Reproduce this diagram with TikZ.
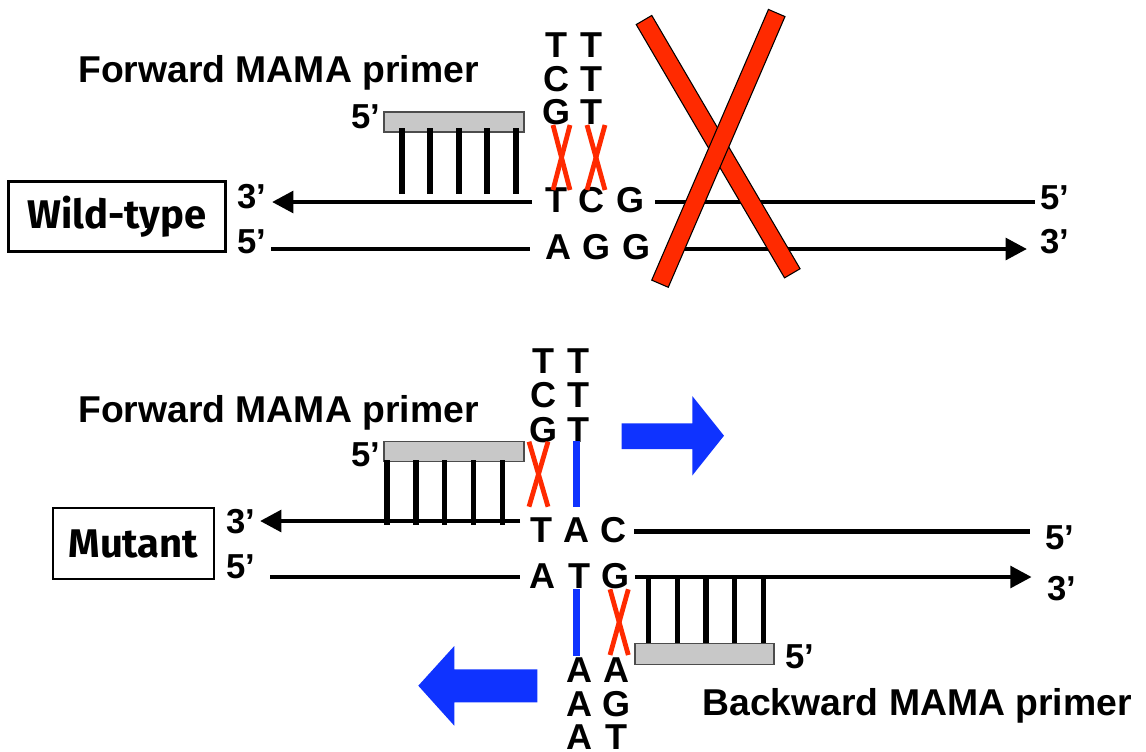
\documentclass[tikz,border=0pt]{standalone}
\usepackage{fontspec}
\setmainfont{Liberation Sans}
\newfontfamily\comicfont{Fira Sans}
\usetikzlibrary{arrows.meta,calc}
\definecolor{xred}{HTML}{FF2A00}
\definecolor{xblue}{HTML}{0F33FF}
\definecolor{primergray}{HTML}{C8C8C8}
\tikzset{
  strand/.style={line width=3.5pt},
  strandarrow/.style={strand,-{Triangle[length=16pt,width=16pt]}},
  hbond/.style={line width=4.2pt},
  redx/.style={line width=3.6pt, draw=xred},
  blueline/.style={line width=5.3pt, draw=xblue},
  nuc/.style={font=\fontsize{27}{27}\selectfont\bfseries, inner sep=0pt},
  endlbl/.style={font=\fontsize{26}{26}\selectfont\bfseries, inner sep=0pt},
  title/.style={font=\fontsize{28}{28}\selectfont\bfseries, inner sep=0pt},
  primerbox/.style={draw=black!70, line width=0.8pt, fill=primergray, minimum width=105pt, minimum height=15pt, inner sep=0pt},
  labelbox/.style={draw, line width=2pt, font=\comicfont\fontsize{30}{30}\selectfont\bfseries, inner sep=0pt},
  bigx/.style={draw=black, line width=0.8pt, fill=xred},
  bluearrow/.style={fill=xblue, draw=none},
}
\begin{document}
\begin{tikzpicture}[x=0.75pt,y=-0.75pt]
\useasboundingbox (0,0) rectangle (1146,751);

% ================= WILD-TYPE =================
\node[title, anchor=base west] (fwd1) at (78,82) {Forward MAMA primer};
\node[primerbox] (p1) at (454,122) {};
\node[endlbl] (p1five) at (366,117) {5’};
\foreach \x in {401.7,430,459,486.7,515.7} \draw[hbond] (\x,128) -- (\x,194);

\node[labelbox, minimum width=162.75pt, minimum height=52.5pt] (wt) at (116.7,216.7) {Wild-type};
\node[endlbl] (wt3) at (252,197) {3’};
\node[endlbl] (wt5) at (252,242) {5’};
\node[endlbl] (wt5r) at (1055,198) {5’};
\node[endlbl] (wt3r) at (1055,242) {3’};

\coordinate (t1a) at (532,202); \coordinate (t1b) at (272,202);
\coordinate (t1c) at (655,202); \coordinate (t1d) at (1035,202);
\coordinate (b1a) at (271,249); \coordinate (b1b) at (530,249);
\coordinate (b1c) at (668,249); \coordinate (b1d) at (1027,249);
\draw[strandarrow] (t1a) -- (t1b);
\draw[strand] (t1c) -- (t1d);
\draw[strand] (b1a) -- (b1b);
\draw[strandarrow] (b1c) -- (b1d);

\node[nuc] (w1) at (556.7,200) {T};
\node[nuc] (w2) at (591.7,200) {C};
\node[nuc] (w3) at (630,200) {G};
\node[nuc] (w4) at (558.3,247) {A};
\node[nuc] (w5) at (596.7,247) {G};
\node[nuc] (w6) at (636.7,247) {G};

\node[nuc] (wc1) at (556.7,45) {T};
\node[nuc] (wc2) at (556.7,79) {C};
\node[nuc] (wc3) at (556.7,112.5) {G};
\node[nuc] (wc4) at (591,45) {T};
\node[nuc] (wc5) at (591,79) {T};
\node[nuc] (wc6) at (591,112.5) {T};

\draw[redx] (553,125) -- (570,190);
\draw[redx] (570,125) -- (553,190);
\draw[redx] (587,125) -- (605,190);
\draw[redx] (605,125) -- (587,190);

\coordinate (xa1) at (644,20); \coordinate (xa2) at (792.3,273.3);
\coordinate (xb1) at (776.7,13); \coordinate (xb2) at (660,283.7);
\path[bigx] ($(xa1)!6.75pt!90:(xa2)$) -- ($(xa1)!6.75pt!-90:(xa2)$) -- ($(xa2)!6.75pt!90:(xa1)$) -- ($(xa2)!6.75pt!-90:(xa1)$) -- cycle;
\path[bigx] ($(xb1)!6.75pt!90:(xb2)$) -- ($(xb1)!6.75pt!-90:(xb2)$) -- ($(xb2)!6.75pt!90:(xb1)$) -- ($(xb2)!6.75pt!-90:(xb1)$) -- cycle;

% ================= MUTANT =================
\node[title, anchor=base west] (fwd2) at (78,422) {Forward MAMA primer};
\node[primerbox] (p2) at (454,451.5) {};
\node[endlbl] (p2five) at (366,455) {5’};
\foreach \x in {386.7,416,444.3,473.3,502.3} \draw[hbond] (\x,460) -- (\x,525);

\node[labelbox, minimum width=120.75pt, minimum height=53.25pt] (mt) at (133.5,543.5) {Mutant};
\node[endlbl] (mt3) at (241,522) {3’};
\node[endlbl] (mt5) at (241,567) {5’};
\node[endlbl] (mt5r) at (1060,538) {5’};
\node[endlbl] (mt3r) at (1062,589) {3’};

\coordinate (t2a) at (520,521); \coordinate (t2b) at (260,521);
\coordinate (t2c) at (634,531.7); \coordinate (t2d) at (1030,531.7);
\coordinate (b2a) at (270,577); \coordinate (b2b) at (520,577);
\coordinate (b2c) at (635,577); \coordinate (b2d) at (1031.7,577);
\draw[strandarrow] (t2a) -- (t2b);
\draw[strand] (t2c) -- (t2d);
\draw[strand] (b2a) -- (b2b);
\draw[strandarrow] (b2c) -- (b2d);

\node[nuc] (m1) at (541.7,530.5) {T};
\node[nuc] (m2) at (576.7,530.5) {A};
\node[nuc] (m3) at (613.3,530.5) {C};
\node[nuc] (m4) at (542.7,576) {A};
\node[nuc] (m5) at (579,576) {T};
\node[nuc] (m6) at (615,576) {G};

\node[nuc] (mc1) at (543,361.5) {T};
\node[nuc] (mc2) at (543,395) {C};
\node[nuc] (mc3) at (543,430) {G};
\node[nuc] (mc4) at (578,361.5) {T};
\node[nuc] (mc5) at (578,395) {T};
\node[nuc] (mc6) at (578,430) {T};

\draw[redx] (529,441.7) -- (548,506.7);
\draw[redx] (548,441.7) -- (529,506.7);
\draw[blueline] (576.7,441) -- (576.7,506.7);

\path[bluearrow] (621.7,423.3) -- (692.3,423.3) -- (692.3,396) -- (724,435.7) -- (692.3,475.5) -- (692.3,449) -- (621.7,449) -- cycle;

% backward primer
\node[primerbox, minimum width=104.25pt, minimum height=15.5pt] (p3) at (704.5,653.7) {};
\node[endlbl] (p3five) at (800,657) {5’};
\foreach \x in {648.3,677.3,706,734.3,763.3} \draw[hbond] (\x,578) -- (\x,643);
\draw[blueline] (576.7,589) -- (576.7,655.7);
\draw[redx] (610,589.3) -- (628.3,655);
\draw[redx] (628.3,589.3) -- (610,655);

\node[nuc] (mb1) at (579.3,670) {A};
\node[nuc] (mb2) at (579.3,704) {A};
\node[nuc] (mb3) at (579.3,737) {A};
\node[nuc] (mb4) at (616.7,670) {A};
\node[nuc] (mb5) at (616.7,704) {G};
\node[nuc] (mb6) at (616.7,737) {T};

\path[bluearrow] (537.3,669.3) -- (454.3,669.3) -- (454.3,646) -- (418.3,685.7) -- (454.3,725.7) -- (454.3,702.3) -- (537.3,702.3) -- cycle;

\node[title, anchor=base east] (bwd) at (1132,715) {Backward MAMA primer};
\end{tikzpicture}
\end{document}
